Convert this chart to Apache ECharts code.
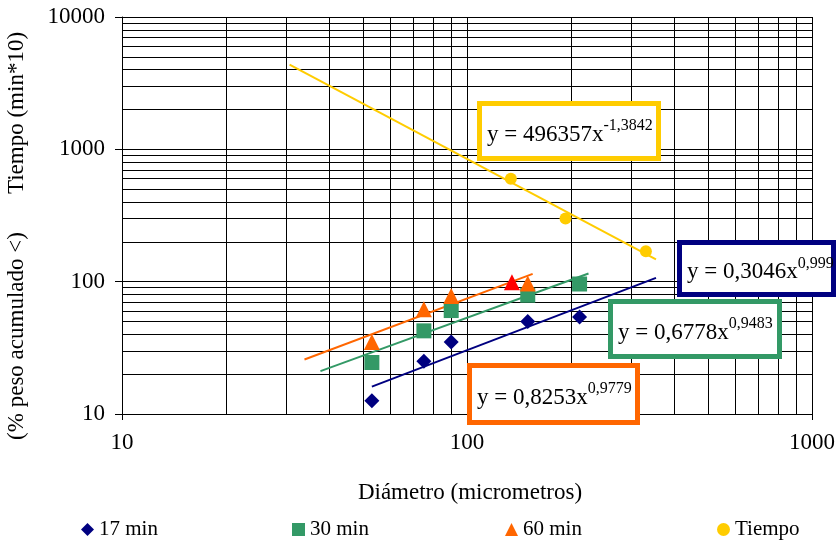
<!DOCTYPE html>
<html>
<head>
<meta charset="utf-8">
<script src="https://cdn.jsdelivr.net/npm/echarts@6/dist/echarts.min.js"></script>
<style>
html,body{margin:0;padding:0;background:#fff;}
#chart{width:838px;height:544px;}
</style>
</head>
<body>
<div id="chart"></div>
<script>
// ---- data ----
const diam = [53, 75, 90, 150, 212];
const pct17 = [12.6, 25, 35, 50, 54];
const pct30 = [24.5, 42.5, 60.5, 79, 96];
const diam60 = [53, 75, 90, 150];
const pct60 = [35, 62, 78, 97];
const diamRed = [135];
const pctRed = [99];
const diamTiempo = [134, 193, 330];
const tiempo = [600, 300, 170];

// trendline end points (power fits shown on the chart)
const trend17x = [53, 353];      const trend17y = [16.1, 106.9];
const trend30x = [37.6, 225];    const trend30y = [21.1, 115.3];
const trend60x = [33.8, 155];    const trend60y = [25.8, 114.4];
const trendTx = [30.6, 353];     const trendTy = [4358, 147.6];

// minor grid values
const xMinor = [20,30,40,50,60,70,80,90,200,300,400,500,600,700,800,900];
const yMinor = [20,30,40,50,60,70,80,90,200,300,400,500,600,700,800,900,2000,3000,4000,5000,6000,7000,8000,9000];

const equations = [
  {main: 'y = 496357x', sup: '-1,3842', color: '#FFCC00'},
  {main: 'y = 0,3046x', sup: '0,999', color: '#000080'},
  {main: 'y = 0,6778x', sup: '0,9483', color: '#339966'},
  {main: 'y = 0,8253x', sup: '0,9779', color: '#FF6600'}
];

const FONT = '"Liberation Serif", "Times New Roman", serif';
const pair = (xs, ys) => xs.map((x, i) => [x, ys[i]]);

const C17 = '#000080', C30 = '#339966', C60 = '#FF6600', CT = '#FFCC00';

const boxes = [
  {x: 477, y: 101, w: 184, h: 60},
  {x: 677, y: 240, w: 159, h: 57},
  {x: 608, y: 299, w: 174, h: 60},
  {x: 467, y: 363, w: 173, h: 62}
];

const graphics = [];
equations.forEach((e, i) => {
  const b = boxes[i];
  graphics.push(
    {type: 'rect', z: 100, shape: {x: b.x + 2.5, y: b.y + 2.5, width: b.w - 5, height: b.h - 5},
     style: {fill: '#ffffff', stroke: e.color, lineWidth: 5}},
    {type: 'text', z: 101, x: b.x + 10, y: b.y + b.h / 2 + 1,
     style: {text: '{m|' + e.main + '}{s|' + e.sup + '}',
             textVerticalAlign: 'middle', textAlign: 'left',
             rich: {
               m: {fontSize: 23, fontFamily: FONT, fill: '#000', lineHeight: 28, verticalAlign: 'bottom'},
               s: {fontSize: 16, fontFamily: FONT, fill: '#000', lineHeight: 25, verticalAlign: 'top'}
             }}}
  );
});
graphics.push(
  {type: 'text', z: 100, x: 17, y: 113, rotation: Math.PI / 2,
   style: {text: 'Tiempo (min*10)', font: '23px ' + FONT, fill: '#000', textAlign: 'center', textVerticalAlign: 'middle'}},
  {type: 'text', z: 100, x: 17, y: 336, rotation: Math.PI / 2,
   style: {text: '(% peso acumulado <)', font: '23px ' + FONT, fill: '#000', textAlign: 'center', textVerticalAlign: 'middle'}},
  {type: 'text', z: 100, x: 470, y: 493,
   style: {text: 'Diámetro (micrometros)', font: '23px ' + FONT, fill: '#000', textAlign: 'center', textVerticalAlign: 'middle'}}
);

const gridLines = [].concat(
  xMinor.map(v => ({xAxis: v})),
  yMinor.map(v => ({yAxis: v}))
);

const legendDefs = [
  {name: '17 min', icon: 'diamond', left: 81},
  {name: '30 min', icon: 'rect', left: 292},
  {name: '60 min', icon: 'triangle', left: 505},
  {name: 'Tiempo', icon: 'circle', left: 717}
];

const option = {
  animation: false,
  backgroundColor: '#fff',
  textStyle: {fontFamily: FONT},
  grid: {left: 122, top: 17, right: 24, bottom: 130, containLabel: false},
  xAxis: {
    type: 'log', logBase: 10, min: 10, max: 1000,
    axisLine: {show: true, lineStyle: {color: '#000', width: 1}},
    axisTick: {show: true, length: 6, inside: false, lineStyle: {color: '#000'}},
    axisLabel: {fontSize: 23, fontFamily: FONT, color: '#000', margin: 17, formatter: v => String(Math.round(v))},
    splitLine: {show: true, lineStyle: {color: '#000', width: 1}}
  },
  yAxis: {
    type: 'log', logBase: 10, min: 10, max: 10000,
    axisLine: {show: true, lineStyle: {color: '#000', width: 1}},
    axisTick: {show: true, length: 7, inside: false, lineStyle: {color: '#000'}},
    axisLabel: {fontSize: 23, fontFamily: FONT, color: '#000', margin: 17, formatter: v => String(Math.round(v))},
    splitLine: {show: true, lineStyle: {color: '#000', width: 1}}
  },
  legend: legendDefs.map(l => ({
    data: [{name: l.name, icon: l.icon}],
    left: l.left, top: 519, padding: 0,
    itemWidth: 13, itemHeight: 13,
    textStyle: {fontSize: 21, fontFamily: FONT, color: '#000'},
    selectedMode: false
  })),
  graphic: graphics,
  series: [
    {name: 'grid', type: 'line', data: [], silent: true,
     markLine: {silent: true, z: 1, symbol: ['none', 'none'], label: {show: false},
                lineStyle: {color: '#000', width: 1, type: 'solid'}, emphasis: {disabled: true},
                data: gridLines}},
    {name: 'trend17', type: 'line', data: pair(trend17x, trend17y), symbol: 'none', z: 3,
     lineStyle: {color: C17, width: 2}},
    {name: 'trend30', type: 'line', data: pair(trend30x, trend30y), symbol: 'none', z: 3,
     lineStyle: {color: C30, width: 2}},
    {name: 'trend60', type: 'line', data: pair(trend60x, trend60y), symbol: 'none', z: 3,
     lineStyle: {color: C60, width: 2}},
    {name: 'trendT', type: 'line', data: pair(trendTx, trendTy), symbol: 'none', z: 3,
     lineStyle: {color: CT, width: 2}},
    {name: '17 min', type: 'scatter', data: pair(diam, pct17), symbol: 'diamond', symbolSize: 15, z: 4,
     itemStyle: {color: C17, opacity: 1}},
    {name: '30 min', type: 'scatter', data: pair(diam, pct30), symbol: 'rect', symbolSize: 15, z: 4,
     itemStyle: {color: C30, opacity: 1}},
    {name: '60 min', type: 'scatter', data: pair(diam60, pct60), symbol: 'triangle', symbolSize: 16, z: 4,
     itemStyle: {color: C60, opacity: 1}},
    {name: '60 min (red)', type: 'scatter', data: pair(diamRed, pctRed), symbol: 'triangle', symbolSize: 16, z: 4,
     itemStyle: {color: '#FF0000', opacity: 1}},
    {name: 'Tiempo', type: 'scatter', data: pair(diamTiempo, tiempo), symbol: 'circle', symbolSize: 12, z: 4,
     itemStyle: {color: CT, opacity: 1}}
  ]
};

const chart = echarts.init(document.getElementById('chart'), null, {renderer: 'canvas'});
chart.setOption(option);
</script>
</body>
</html>
